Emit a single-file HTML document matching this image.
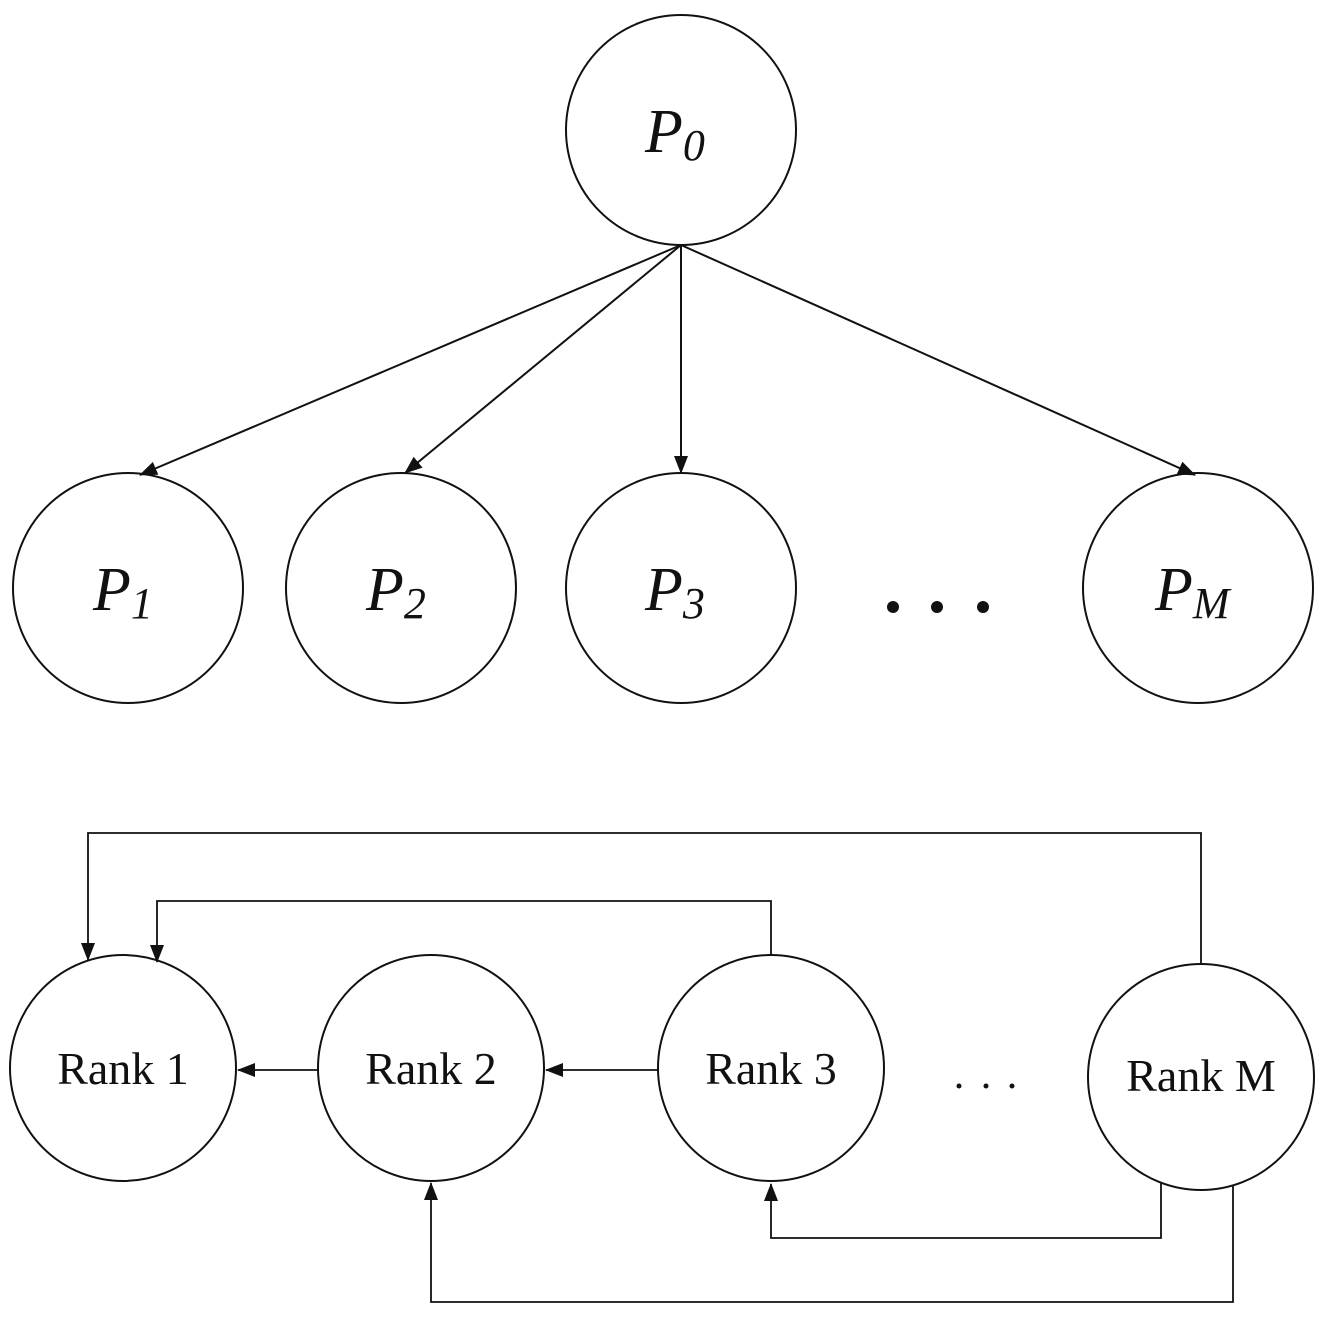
<!DOCTYPE html>
<html><head><meta charset="utf-8"><style>
html,body{margin:0;padding:0;background:#fff;}
svg{display:block;}
text{font-family:"Liberation Serif",serif;fill:#111;}
</style></head><body>
<svg width="1327" height="1327" viewBox="0 0 1327 1327">
<defs>
<marker id="ahb" markerWidth="18" markerHeight="14" refX="17" refY="7" orient="auto" markerUnits="userSpaceOnUse">
<path d="M0,0 L18,7 L0,14 z" fill="#111"/>
</marker>
</defs>
<g stroke="#111" stroke-width="2" fill="none">
<g>
<line x1="681" y1="245" x2="140" y2="475" marker-end="url(#ahb)"/>
<line x1="681" y1="245" x2="405" y2="473" marker-end="url(#ahb)"/>
<line x1="681" y1="245" x2="681" y2="473" marker-end="url(#ahb)"/>
<line x1="681" y1="245" x2="1195" y2="475" marker-end="url(#ahb)"/>
</g>
<circle cx="681" cy="130" r="115"/>
<circle cx="128" cy="588" r="115"/>
<circle cx="401" cy="588" r="115"/>
<circle cx="681" cy="588" r="115"/>
<circle cx="1198" cy="588" r="115"/>
<circle cx="123" cy="1068" r="113"/>
<circle cx="431" cy="1068" r="113"/>
<circle cx="771" cy="1068" r="113"/>
<circle cx="1201" cy="1077" r="113"/>
<g stroke-width="1.8">
<polyline points="1201,964 1201,833 88,833 88,960" marker-end="url(#ahb)"/>
<polyline points="771,955 771,901 157,901 157,962" marker-end="url(#ahb)"/>
<line x1="318" y1="1070" x2="238" y2="1070" marker-end="url(#ahb)"/>
<line x1="658" y1="1070" x2="546" y2="1070" marker-end="url(#ahb)"/>
<polyline points="1161,1182 1161,1238 771,1238 771,1184" marker-end="url(#ahb)"/>
<polyline points="1233,1186 1233,1302 431,1302 431,1183" marker-end="url(#ahb)"/>
</g>
</g>
<g font-style="italic">
<text x="645" y="152" font-size="62">P<tspan font-size="44" dy="8">0</tspan></text>
<text x="93" y="610" font-size="62">P<tspan font-size="44" dy="8">1</tspan></text>
<text x="366" y="610" font-size="62">P<tspan font-size="44" dy="8">2</tspan></text>
<text x="645" y="610" font-size="62">P<tspan font-size="44" dy="8">3</tspan></text>
<text x="1155" y="610" font-size="62">P<tspan font-size="44" dy="8">M</tspan></text>
</g>
<g fill="#111">
<circle cx="893" cy="607" r="6"/><circle cx="937" cy="607" r="6"/><circle cx="983" cy="607" r="6"/>
</g>
<g font-size="46" text-anchor="middle">
<text x="123" y="1084">Rank 1</text>
<text x="431" y="1084">Rank 2</text>
<text x="771" y="1084">Rank 3</text>
<text x="1201" y="1091">Rank M</text>
</g>
<g fill="#111">
<circle cx="959" cy="1086" r="2.5"/><circle cx="986" cy="1086" r="2.5"/><circle cx="1012" cy="1086" r="2.5"/>
</g>
</svg>
</body></html>
